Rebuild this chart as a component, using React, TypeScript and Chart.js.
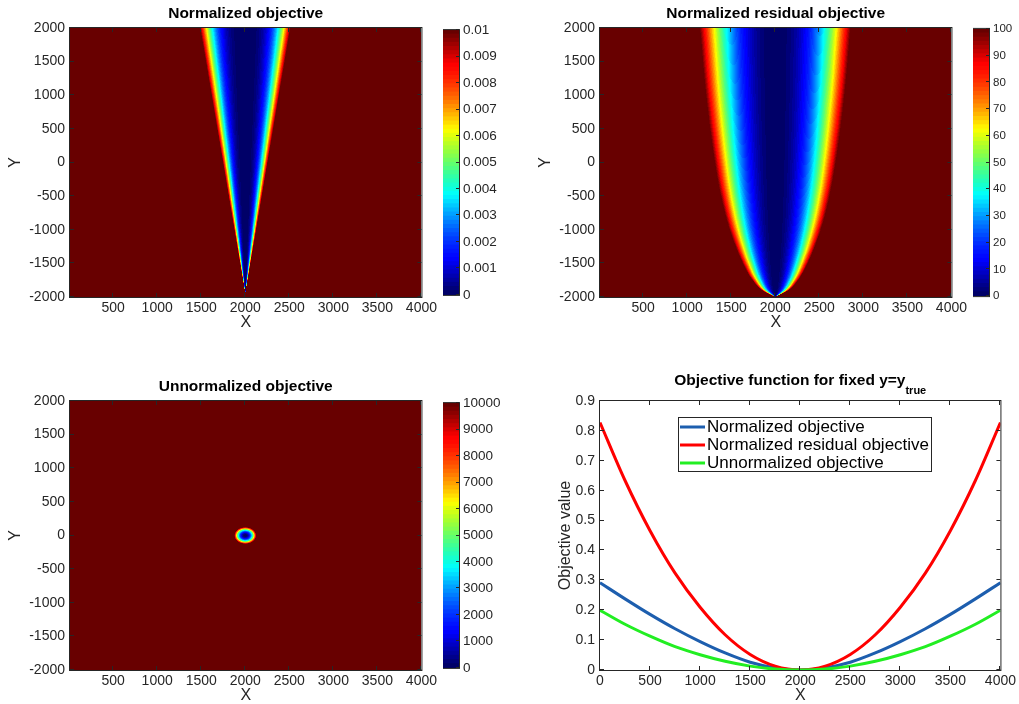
import React, { useEffect, useRef } from "react";
import { Chart, registerables } from "chart.js";

Chart.register(...registerables);

// ---------------- data ----------------
const lineX = [0, 250, 500, 750, 1000, 1250, 1500, 1750, 2000, 2250, 2500, 2750, 3000, 3250, 3500, 3750, 4000];
const normalizedObjective = [0.292, 0.238, 0.186, 0.138, 0.095, 0.057, 0.026, 0.007, 0, 0.007, 0.026, 0.057, 0.095, 0.138, 0.186, 0.238, 0.292];
const residualObjective = [0.828, 0.634, 0.466, 0.324, 0.21, 0.118, 0.052, 0.013, 0, 0.013, 0.052, 0.118, 0.21, 0.324, 0.466, 0.634, 0.828];
const unnormalizedObjective = [0.2, 0.153, 0.113, 0.078, 0.051, 0.029, 0.013, 0.003, 0, 0.003, 0.013, 0.029, 0.051, 0.078, 0.113, 0.153, 0.2];
const seriesLabels = ["Normalized objective", "Normalized residual objective", "Unnormalized objective"];
const seriesColors = ["#1d5eae", "#ff0000", "#22ee22"];

const lineXTicks = [0, 500, 1000, 1500, 2000, 2500, 3000, 3500, 4000];
const lineYTicks = [0, 0.1, 0.2, 0.3, 0.4, 0.5, 0.6, 0.7, 0.8, 0.9];
const lineYTickLabels = ["0", "0.1", "0.2", "0.3", "0.4", "0.5", "0.6", "0.7", "0.8", "0.9"];

const mapXTicks = [500, 1000, 1500, 2000, 2500, 3000, 3500, 4000];
const mapYTicks = [-2000, -1500, -1000, -500, 0, 500, 1000, 1500, 2000];

const nrmCbTicks = [0, 0.001, 0.002, 0.003, 0.004, 0.005, 0.006, 0.007, 0.008, 0.009, 0.01];
const nrmCbLabels = ["0", "0.001", "0.002", "0.003", "0.004", "0.005", "0.006", "0.007", "0.008", "0.009", "0.01"];
const resCbTicks = [0, 10, 20, 30, 40, 50, 60, 70, 80, 90, 100];
const unnCbTicks = [0, 1000, 2000, 3000, 4000, 5000, 6000, 7000, 8000, 9000, 10000];

const subplotTitles = ["Normalized objective", "Normalized residual objective", "Unnormalized objective", "Objective function for fixed y=y"];
const lastTitleSubscript = "true";

// heat map shapes
const sourceX = 2000;
const nrmMax = 0.01;
const nrmPower = 3;
const nrmEdgeY = [-1950, -1000, 0, 1000, 2000];
const nrmEdgeHalfWidth = [0, 125, 255, 385, 515];
const resMax = 100;
const resPower = 2.2;
const resEdgeY = [-2000, -1900, -1750, -1500, -1000, -500, 0, 1000, 2000];
const resEdgeHalfWidth = [0, 150, 260, 370, 520, 620, 690, 790, 860];
const unnMax = 10000;
const unnPower = 2;
const unnCenterY = 0;
const unnEdgeRadius = 125;

// ---------------- helpers ----------------
const FONT = "'Liberation Sans', Arial, Helvetica, sans-serif";
const TEXT = "#262626";

const JET: number[][] = Array.from({ length: 64 }, (_, k) => {
  const t = k / 63;
  const f = (v: number) => Math.round(255 * Math.pow(Math.max(0, Math.min(1, v)), 1.3));
  return [f(Math.min(4 * t - 1.5, -4 * t + 4.5)), f(Math.min(4 * t - 0.5, -4 * t + 3.5)), f(Math.min(4 * t + 0.5, -4 * t + 2.5))];
});

function interp(xs: number[], ys: number[], v: number): number {
  if (v <= xs[0]) return ys[0];
  for (let i = 1; i < xs.length; i++) {
    if (v <= xs[i]) {
      const f = (v - xs[i - 1]) / (xs[i] - xs[i - 1]);
      return ys[i - 1] + f * (ys[i] - ys[i - 1]);
    }
  }
  return ys[ys.length - 1];
}

function smoothInterp(xs: number[], ys: number[], v: number): number {
  const n = xs.length;
  if (v <= xs[0]) return ys[0];
  if (v >= xs[n - 1]) return ys[n - 1];
  const d: number[] = [];
  for (let i = 0; i < n - 1; i++) d.push((ys[i + 1] - ys[i]) / (xs[i + 1] - xs[i]));
  const m: number[] = [d[0]];
  for (let i = 1; i < n - 1; i++) m.push(d[i - 1] * d[i] <= 0 ? 0 : (d[i - 1] + d[i]) / 2);
  m.push(d[n - 2]);
  let k = 0;
  while (k < n - 2 && v > xs[k + 1]) k++;
  const h = xs[k + 1] - xs[k];
  const t = (v - xs[k]) / h;
  const t2 = t * t;
  const t3 = t2 * t;
  return (2 * t3 - 3 * t2 + 1) * ys[k] + (t3 - 2 * t2 + t) * h * m[k] + (-2 * t3 + 3 * t2) * ys[k + 1] + (t3 - t2) * h * m[k + 1];
}

const nrmField = (x: number, y: number) => {
  const h = interp(nrmEdgeY, nrmEdgeHalfWidth, y);
  if (h <= 0) return nrmMax;
  return nrmMax * Math.pow(Math.abs(x - sourceX) / h, nrmPower);
};
const resField = (x: number, y: number) => {
  const h = smoothInterp(resEdgeY, resEdgeHalfWidth, y);
  if (h <= 0) return resMax;
  return resMax * Math.pow(Math.abs(x - sourceX) / h, resPower);
};
const unnField = (x: number, y: number) => {
  const r = Math.hypot(x - sourceX, y - unnCenterY);
  return unnMax * Math.pow(r / unnEdgeRadius, unnPower);
};

function heatPlugin(field: (x: number, y: number) => number, vmax: number) {
  return {
    id: "heat",
    beforeDatasetsDraw(chart: any) {
      const { ctx, chartArea, scales } = chart;
      const { left, top, right, bottom } = chartArea;
      const w = Math.round(right - left);
      const h = Math.round(bottom - top);
      const off = document.createElement("canvas");
      off.width = w;
      off.height = h;
      const octx = off.getContext("2d")!;
      const img = octx.createImageData(w, h);
      const xv = new Float64Array(w);
      for (let i = 0; i < w; i++) xv[i] = scales.x.getValueForPixel(left + i + 0.5);
      for (let j = 0; j < h; j++) {
        const yv = scales.y.getValueForPixel(top + j + 0.5);
        for (let i = 0; i < w; i++) {
          const v = field(xv[i], yv);
          const idx = Math.min(63, Math.max(0, Math.floor((v / vmax) * 64)));
          const c = JET[idx];
          const p = (j * w + i) * 4;
          img.data[p] = c[0];
          img.data[p + 1] = c[1];
          img.data[p + 2] = c[2];
          img.data[p + 3] = 255;
        }
      }
      octx.putImageData(img, 0, 0);
      ctx.drawImage(off, left, top);
    },
  };
}

function framePlugin(title: string, sub?: string) {
  return {
    id: "frame",
    afterDraw(chart: any) {
      const { ctx, chartArea, scales } = chart;
      const { left, top, right, bottom } = chartArea;
      ctx.save();
      ctx.strokeStyle = TEXT;
      ctx.lineWidth = 1;
      ctx.strokeRect(left - 0.5, top - 0.5, right - left + 1, bottom - top + 1);
      ctx.beginPath();
      for (const t of scales.x.ticks) {
        const px = Math.round(scales.x.getPixelForValue(t.value)) - 0.5;
        ctx.moveTo(px, bottom);
        ctx.lineTo(px, bottom - 4);
        ctx.moveTo(px, top);
        ctx.lineTo(px, top + 4);
      }
      for (const t of scales.y.ticks) {
        const py = Math.round(scales.y.getPixelForValue(t.value)) - 0.5;
        ctx.moveTo(left, py);
        ctx.lineTo(left + 4, py);
        ctx.moveTo(right, py);
        ctx.lineTo(right - 4, py);
      }
      ctx.stroke();
      ctx.fillStyle = "#000";
      ctx.textBaseline = "middle";
      const cx = (left + right) / 2;
      if (!sub) {
        ctx.font = `bold 15.5px ${FONT}`;
        ctx.textAlign = "center";
        ctx.fillText(title, cx, top - 14);
      } else {
        ctx.font = `bold 15.5px ${FONT}`;
        const wm = ctx.measureText(title).width;
        ctx.font = `bold 11px ${FONT}`;
        const ws = ctx.measureText(sub).width;
        const start = cx - (wm + ws) / 2;
        ctx.textAlign = "left";
        ctx.font = `bold 15.5px ${FONT}`;
        ctx.fillText(title, start, top - 20);
        ctx.font = `bold 11px ${FONT}`;
        ctx.fillText(sub, start + wm, top - 10);
      }
      ctx.restore();
    },
  };
}

const legendPlugin = {
  id: "boxLegend",
  afterDraw(chart: any) {
    const { ctx, chartArea } = chart;
    const bx = chartArea.left + 78;
    const by = chartArea.top + 16;
    const bw = 253;
    const bh = 54;
    ctx.save();
    ctx.fillStyle = "#fff";
    ctx.fillRect(bx, by, bw, bh);
    ctx.strokeStyle = TEXT;
    ctx.lineWidth = 1;
    ctx.strokeRect(bx + 0.5, by + 0.5, bw, bh);
    ctx.font = `17px ${FONT}`;
    ctx.textBaseline = "middle";
    ctx.textAlign = "left";
    chart.data.datasets.forEach((ds: any, i: number) => {
      const yy = by + 10 + i * 18;
      ctx.strokeStyle = ds.borderColor;
      ctx.lineWidth = 3;
      ctx.beginPath();
      ctx.moveTo(bx + 2, yy);
      ctx.lineTo(bx + 27, yy);
      ctx.stroke();
      ctx.fillStyle = "#000";
      ctx.fillText(ds.label, bx + 29, yy + 0.5);
    });
    ctx.restore();
  },
};

const colorbarFrame = {
  id: "cbFrame",
  afterDraw(chart: any) {
    const { ctx, chartArea, scales } = chart;
    const { left, top, right, bottom } = chartArea;
    ctx.save();
    ctx.strokeStyle = TEXT;
    ctx.lineWidth = 1;
    ctx.strokeRect(left - 0.5, top - 0.5, right - left + 1, bottom - top + 1);
    ctx.beginPath();
    for (const t of scales.y.ticks) {
      const py = Math.round(scales.y.getPixelForValue(t.value)) - 0.5;
      ctx.moveTo(right, py);
      ctx.lineTo(right - 3, py);
    }
    ctx.stroke();
    ctx.restore();
  },
};

const tickFont = (size: number) => ({ family: FONT, size });

function mapAxes(yTitle: string) {
  return {
    x: {
      type: "linear",
      min: 10,
      max: 4000,
      afterBuildTicks: (s: any) => {
        s.ticks = mapXTicks.map((v) => ({ value: v }));
      },
      afterFit: (s: any) => {
        s.height = 43;
      },
      grid: { display: false, drawTicks: false },
      border: { display: false },
      ticks: { padding: 3, color: TEXT, font: tickFont(14), maxRotation: 0, autoSkip: false, callback: (v: any) => String(v) },
      title: { display: true, text: "X", color: TEXT, font: tickFont(16), padding: { top: 0, bottom: 7.4 } },
    },
    y: {
      type: "linear",
      min: -2000,
      max: 2000,
      afterBuildTicks: (s: any) => {
        s.ticks = mapYTicks.map((v) => ({ value: v }));
      },
      afterFit: (s: any) => {
        s.width = 70;
      },
      grid: { display: false, drawTicks: false },
      border: { display: false },
      ticks: { padding: 5, color: TEXT, font: tickFont(14), autoSkip: false, callback: (v: any) => String(v) },
      title: { display: true, text: yTitle, color: TEXT, font: tickFont(16), padding: { top: 6.4, bottom: 0 } },
    },
  };
}

function makeHeatmap(canvas: HTMLCanvasElement, field: (x: number, y: number) => number, vmax: number, title: string) {
  return new Chart(canvas, {
    type: "scatter",
    data: { datasets: [] },
    options: {
      animation: false,
      responsive: false,
      devicePixelRatio: 1,
      events: [],
      layout: { padding: { top: 28, right: 18, left: 0, bottom: 0 } },
      plugins: { legend: { display: false }, tooltip: { enabled: false } },
      scales: mapAxes("Y") as any,
    },
    plugins: [heatPlugin(field, vmax), framePlugin(title)],
  } as any);
}

function makeColorbar(canvas: HTMLCanvasElement, vmax: number, ticks: number[], labels: string[], fontSize: number) {
  return new Chart(canvas, {
    type: "bar",
    data: {
      labels: [""],
      datasets: JET.map((c) => ({
        data: [vmax / 64],
        backgroundColor: `rgb(${c[0]},${c[1]},${c[2]})`,
        borderWidth: 0,
        inflateAmount: 0.6,
        barPercentage: 1,
        categoryPercentage: 1,
      })),
    },
    options: {
      animation: false,
      responsive: false,
      devicePixelRatio: 1,
      events: [],
      layout: { padding: { top: 10, bottom: 10, left: 0, right: 0 } },
      plugins: { legend: { display: false }, tooltip: { enabled: false } },
      scales: {
        x: { stacked: true, display: false },
        y: {
          stacked: true,
          position: "right",
          min: 0,
          max: vmax,
          afterBuildTicks: (s: any) => {
            s.ticks = ticks.map((v) => ({ value: v }));
          },
          afterFit: (s: any) => {
            s.width = canvas.width - 16;
          },
          grid: { display: false, drawTicks: false },
          border: { display: false },
          ticks: { padding: 4, color: TEXT, font: tickFont(fontSize), autoSkip: false, callback: (_v: any, i: number) => labels[i] },
        },
      },
    },
    plugins: [colorbarFrame],
  } as any);
}

function makeLineChart(canvas: HTMLCanvasElement) {
  const values = [normalizedObjective, residualObjective, unnormalizedObjective];
  return new Chart(canvas, {
    type: "line",
    data: {
      datasets: seriesLabels.map((label, k) => ({
        label,
        data: lineX.map((x, i) => ({ x, y: values[k][i] })),
        borderColor: seriesColors[k],
        backgroundColor: seriesColors[k],
        borderWidth: 3,
        pointRadius: 0,
        fill: false,
        cubicInterpolationMode: "monotone",
        order: 2 - k,
      })),
    },
    options: {
      animation: false,
      responsive: false,
      devicePixelRatio: 1,
      events: [],
      layout: { padding: { top: 28, right: 16, left: 0, bottom: 0 } },
      plugins: { legend: { display: false }, tooltip: { enabled: false } },
      scales: {
        x: {
          type: "linear",
          min: 0,
          max: 4000,
          afterBuildTicks: (s: any) => {
            s.ticks = lineXTicks.map((v) => ({ value: v }));
          },
          afterFit: (s: any) => {
            s.height = 43;
          },
          grid: { display: false, drawTicks: false },
          border: { display: false },
          ticks: { padding: 3, color: TEXT, font: tickFont(14), maxRotation: 0, autoSkip: false, callback: (v: any) => String(v) },
          title: { display: true, text: "X", color: TEXT, font: tickFont(16), padding: { top: 0, bottom: 7.4 } },
        },
        y: {
          type: "linear",
          min: 0,
          max: 0.9,
          afterBuildTicks: (s: any) => {
            s.ticks = lineYTicks.map((v) => ({ value: v }));
          },
          afterFit: (s: any) => {
            s.width = 70;
          },
          grid: { display: false, drawTicks: false },
          border: { display: false },
          ticks: { padding: 5, color: TEXT, font: tickFont(14), autoSkip: false, callback: (_v: any, i: number) => lineYTickLabels[i] },
          title: { display: true, text: "Objective value", color: TEXT, font: tickFont(16), padding: { top: 26.4, bottom: 0 } },
        },
      },
    },
    plugins: [framePlugin(subplotTitles[3], lastTitleSubscript), legendPlugin],
  } as any);
}

function ChartBox(props: { left: number; top: number; width: number; height: number; build: (c: HTMLCanvasElement) => Chart }) {
  const ref = useRef<HTMLCanvasElement>(null);
  useEffect(() => {
    const chart = props.build(ref.current!);
    return () => chart.destroy();
  }, []);
  return (
    <canvas
      ref={ref}
      width={props.width}
      height={props.height}
      style={{ position: "absolute", left: props.left, top: props.top, width: props.width, height: props.height }}
    />
  );
}

export default function App() {
  return (
    <div style={{ position: "fixed", left: 0, top: 0, width: 1019, height: 704, overflow: "hidden", background: "#fff" }}>
      <ChartBox left={0} top={0} width={440} height={340} build={(c) => makeHeatmap(c, nrmField, nrmMax, subplotTitles[0])} />
      <ChartBox left={443} top={18} width={61} height={289} build={(c) => makeColorbar(c, nrmMax, nrmCbTicks, nrmCbLabels, 13.5)} />
      <ChartBox left={530} top={0} width={440} height={340} build={(c) => makeHeatmap(c, resField, resMax, subplotTitles[1])} />
      <ChartBox left={973} top={18} width={46} height={289} build={(c) => makeColorbar(c, resMax, resCbTicks, resCbTicks.map(String), 11.5)} />
      <ChartBox left={0} top={373} width={440} height={340} build={(c) => makeHeatmap(c, unnField, unnMax, subplotTitles[2])} />
      <ChartBox left={443} top={391} width={61} height={289} build={(c) => makeColorbar(c, unnMax, unnCbTicks, unnCbTicks.map(String), 13.5)} />
      <ChartBox left={530} top={373} width={489} height={340} build={(c) => makeLineChart(c)} />
    </div>
  );
}
